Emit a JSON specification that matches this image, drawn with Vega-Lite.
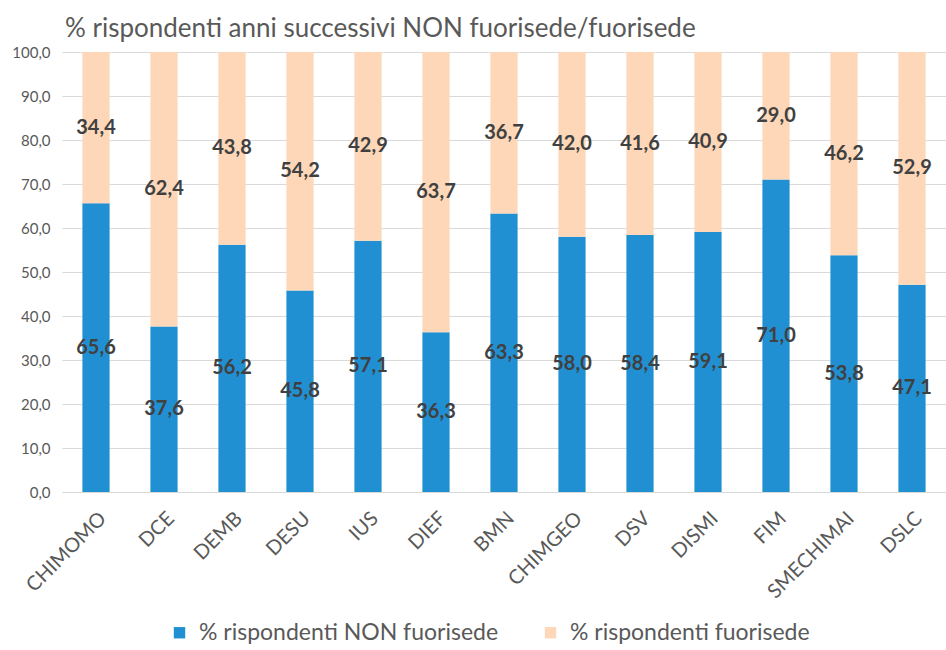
{
  "$schema": "https://vega.github.io/schema/vega-lite/v6.json",
  "width": 884,
  "height": 440,
  "autosize": {"type": "none"},
  "padding": {"left": 62, "top": 52, "right": 0, "bottom": 158},
  "background": "white",
  "title": {"text": "% rispondenti anni successivi NON fuorisede/fuorisede", "anchor": "start", "frame": "group", "fontSize": 26, "font": "Lato", "fontWeight": "normal", "color": "#595959", "offset": 3, "dx": 3},
  "config": {
    "locale": {"number": {"decimal": ",", "thousands": ".", "grouping": [3], "currency": ["", " €"]}},
    "view": {"stroke": null},
    "font": "Lato"
  },
  "data": {"values": [
    {"dip": "CHIMOMO", "serie": "% rispondenti NON fuorisede", "ord": 1, "v": 65.6},
    {"dip": "CHIMOMO", "serie": "% rispondenti fuorisede", "ord": 2, "v": 34.4},
    {"dip": "DCE", "serie": "% rispondenti NON fuorisede", "ord": 1, "v": 37.6},
    {"dip": "DCE", "serie": "% rispondenti fuorisede", "ord": 2, "v": 62.4},
    {"dip": "DEMB", "serie": "% rispondenti NON fuorisede", "ord": 1, "v": 56.2},
    {"dip": "DEMB", "serie": "% rispondenti fuorisede", "ord": 2, "v": 43.8},
    {"dip": "DESU", "serie": "% rispondenti NON fuorisede", "ord": 1, "v": 45.8},
    {"dip": "DESU", "serie": "% rispondenti fuorisede", "ord": 2, "v": 54.2},
    {"dip": "IUS", "serie": "% rispondenti NON fuorisede", "ord": 1, "v": 57.1},
    {"dip": "IUS", "serie": "% rispondenti fuorisede", "ord": 2, "v": 42.9},
    {"dip": "DIEF", "serie": "% rispondenti NON fuorisede", "ord": 1, "v": 36.3},
    {"dip": "DIEF", "serie": "% rispondenti fuorisede", "ord": 2, "v": 63.7},
    {"dip": "BMN", "serie": "% rispondenti NON fuorisede", "ord": 1, "v": 63.3},
    {"dip": "BMN", "serie": "% rispondenti fuorisede", "ord": 2, "v": 36.7},
    {"dip": "CHIMGEO", "serie": "% rispondenti NON fuorisede", "ord": 1, "v": 58.0},
    {"dip": "CHIMGEO", "serie": "% rispondenti fuorisede", "ord": 2, "v": 42.0},
    {"dip": "DSV", "serie": "% rispondenti NON fuorisede", "ord": 1, "v": 58.4},
    {"dip": "DSV", "serie": "% rispondenti fuorisede", "ord": 2, "v": 41.6},
    {"dip": "DISMI", "serie": "% rispondenti NON fuorisede", "ord": 1, "v": 59.1},
    {"dip": "DISMI", "serie": "% rispondenti fuorisede", "ord": 2, "v": 40.9},
    {"dip": "FIM", "serie": "% rispondenti NON fuorisede", "ord": 1, "v": 71.0},
    {"dip": "FIM", "serie": "% rispondenti fuorisede", "ord": 2, "v": 29.0},
    {"dip": "SMECHIMAI", "serie": "% rispondenti NON fuorisede", "ord": 1, "v": 53.8},
    {"dip": "SMECHIMAI", "serie": "% rispondenti fuorisede", "ord": 2, "v": 46.2},
    {"dip": "DSLC", "serie": "% rispondenti NON fuorisede", "ord": 1, "v": 47.1},
    {"dip": "DSLC", "serie": "% rispondenti fuorisede", "ord": 2, "v": 52.9}
  ]},
  "encoding": {
    "x": {
      "field": "dip", "type": "nominal", "sort": null, "title": null,
      "scale": {"paddingInner": 0.6, "paddingOuter": 0.3},
      "axis": {"labelAngle": -45, "labelFontSize": 20, "labelColor": "#595959", "ticks": false, "domainColor": "#d9d9d9", "labelPadding": 16, "grid": false}
    },
    "y": {
      "field": "v", "type": "quantitative", "stack": "zero", "title": null,
      "scale": {"domain": [0, 100], "nice": false},
      "axis": {"values": [0, 10, 20, 30, 40, 50, 60, 70, 80, 90, 100], "format": ".1f", "labelFontSize": 15, "labelColor": "#595959", "ticks": false, "domain": false, "gridColor": "#d9d9d9", "labelPadding": 12}
    },
    "order": {"field": "ord", "type": "quantitative", "sort": "ascending"}
  },
  "layer": [
    {
      "mark": {"type": "bar"},
      "encoding": {
        "color": {
          "field": "serie", "type": "nominal", "title": null,
          "scale": {"domain": ["% rispondenti NON fuorisede", "% rispondenti fuorisede"], "range": ["#2190d3", "#fdd7b7"]},
          "legend": {"orient": "none", "direction": "horizontal", "legendX": 106, "legendY": 569, "symbolType": "square", "symbolSize": 130, "labelFontSize": 23, "labelLimit": 400, "labelColor": "#595959", "columnPadding": 40, "labelOffset": 8, "symbolStrokeWidth": 0}
        }
      }
    },
    {
      "mark": {"type": "text", "fontSize": 20, "fontWeight": "bold", "color": "#404040"},
      "encoding": {
        "y": {"field": "v", "type": "quantitative", "stack": "zero", "bandPosition": 0.5},
        "text": {"field": "v", "type": "quantitative", "format": ".1f"}
      }
    }
  ]
}
